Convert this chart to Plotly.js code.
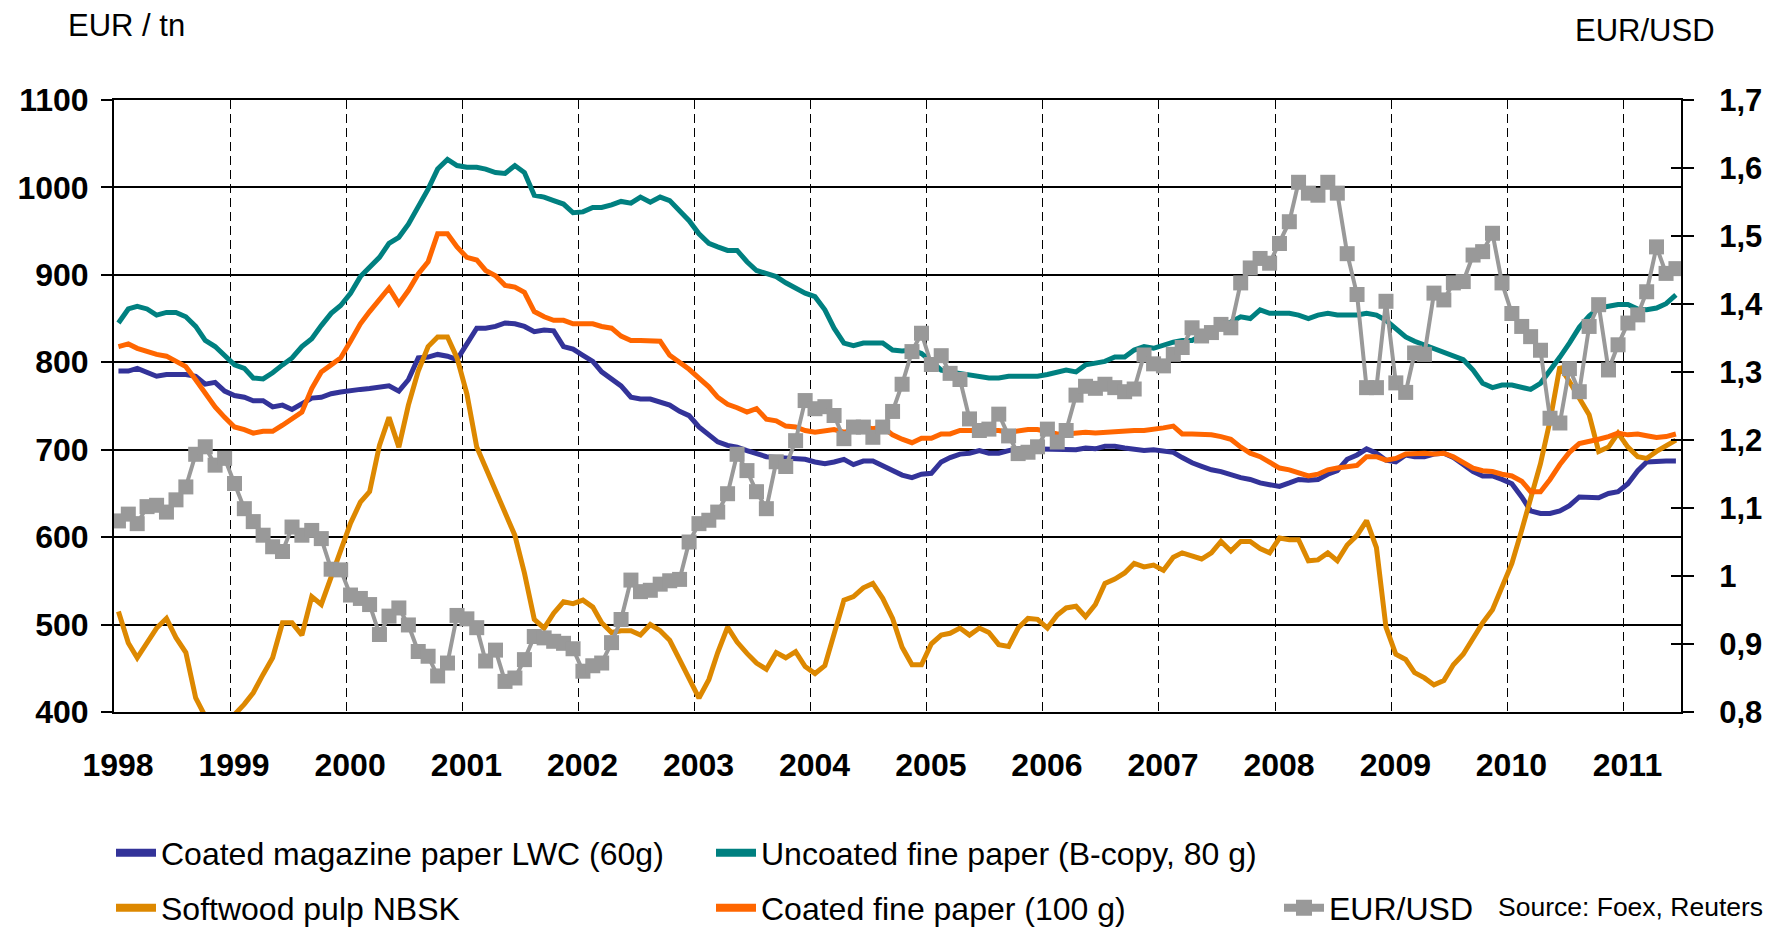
<!DOCTYPE html>
<html>
<head>
<meta charset="utf-8">
<script src="https://cdn.plot.ly/plotly-3.0.1.min.js"></script>
<style>
html,body{margin:0;padding:0;background:#ffffff;}
#chart{width:1767px;height:928px;}
</style>
</head>
<body>
<div id="chart"></div>
<script>
// ---- categories: monthly observations Jan 1998 .. Jun 2011 ----
const firstYear = 1998;
const monthCount = 162;
const yearTickValues = [1998,1999,2000,2001,2002,2003,2004,2005,2006,2007,2008,2009,2010,2011];
const leftTickValues = [400,500,600,700,800,900,1000,1100];
const rightTickValues = [0.8,0.9,1.0,1.1,1.2,1.3,1.4,1.5,1.6,1.7];
const rightTickLabels = ["0,8","0,9","1","1,1","1,2","1,3","1,4","1,5","1,6","1,7"];

// ---- series (EUR / tn) ----
const coatedMagazineLWC = [
 790,790,793,788,784,786,786,786,784,775,777,767,
 762,760,756,756,749,751,746,753,759,760,764,766,
 768,769,770,771,773,767,780,805,806,809,807,803,
 820,839,839,841,845,844,841,835,837,836,818,815,
 808,801,789,781,773,760,758,758,754,751,744,739,
 726,717,709,705,703,699,695,692,691,690,690,689,
 686,684,686,689,683,687,687,682,676,671,668,672,
 673,686,691,695,696,699,696,696,699,701,701,701,
 701,700,700,700,702,701,704,704,702,700,699,700,
 699,697,691,685,681,677,675,671,668,666,662,660,
 658,662,666,665,666,672,676,689,694,701,696,688,
 686,694,692,692,695,696,691,683,675,670,670,666,
 661,646,630,627,627,630,636,646,646,645,650,652,
 661,676,686,687,687,687];

const uncoatedFine = [
 845,861,864,861,854,857,857,852,841,825,818,808,
 797,793,782,781,788,797,805,818,827,842,856,865,
 879,898,909,920,936,943,958,977,998,1021,1032,1025,
 1023,1023,1021,1017,1016,1025,1017,991,989,985,981,971,
 972,977,977,980,984,982,989,983,989,985,974,962,
 947,936,932,928,928,915,905,901,898,891,885,879,
 875,860,839,822,819,822,822,822,814,813,814,810,
 801,791,789,787,786,784,782,782,784,784,784,784,
 786,789,791,789,797,799,801,806,806,814,818,816,
 820,823,825,825,831,837,842,846,852,850,860,856,
 856,856,854,850,854,856,854,854,854,856,854,848,
 839,829,824,820,816,812,808,803,791,776,771,774,
 774,772,769,776,790,806,822,840,853,862,864,866,
 866,861,860,862,867,877];

const softwoodNBSK = [
 515,479,462,479,496,507,485,468,416,395,397,396,
 397,409,422,443,462,502,502,488,532,523,555,587,
 616,640,652,705,737,703,751,790,818,829,829,805,
 764,703,680,652,627,602,559,506,496,513,526,524,
 528,520,502,491,493,493,488,500,493,482,460,438,
 416,437,468,497,480,467,456,449,468,462,469,452,
 444,453,490,528,532,542,547,530,507,474,454,454,
 478,488,490,496,488,496,491,477,475,496,507,506,
 496,511,519,521,509,523,547,552,559,570,566,568,
 562,577,582,579,575,582,595,584,595,595,587,582,
 599,597,597,573,574,582,573,591,602,619,588,497,
 466,460,445,439,431,436,454,466,485,502,517,544,
 570,608,646,684,733,795,778,760,740,698,703,719,
 703,692,690,698,705,711];

const coatedFine = [
 818,821,816,812,809,807,801,795,780,764,749,737,
 726,723,719,721,721,728,735,743,770,789,797,805,
 824,844,858,871,885,867,882,901,915,947,947,932,
 920,917,905,899,888,886,880,858,852,848,848,844,
 844,844,841,839,830,825,825,825,824,808,800,792,
 782,772,760,752,748,743,747,735,733,727,726,722,
 720,722,723,720,722,726,724,726,717,712,708,713,
 713,718,718,722,722,723,723,722,720,722,723,723,
 720,718,718,719,720,719,720,720,721,722,722,723,
 725,727,718,718,718,717,715,712,703,696,692,686,
 679,677,673,670,672,677,679,680,682,692,692,688,
 690,695,696,696,695,696,692,686,679,676,675,672,
 670,664,652,652,666,683,697,707,709,712,715,719,
 717,718,716,714,715,718];

// ---- series (EUR/USD, right axis) ----
const eurUsd = [
 1.081,1.091,1.077,1.102,1.104,1.094,1.112,1.131,1.179,1.190,1.163,1.173,
 1.136,1.099,1.080,1.060,1.043,1.036,1.072,1.060,1.067,1.055,1.010,1.009,
 0.972,0.967,0.958,0.914,0.941,0.953,0.928,0.889,0.882,0.853,0.872,0.942,
 0.937,0.924,0.875,0.891,0.845,0.850,0.877,0.911,0.909,0.904,0.901,0.893,
 0.860,0.868,0.872,0.902,0.936,0.994,0.977,0.979,0.988,0.993,0.995,1.050,
 1.077,1.082,1.094,1.121,1.179,1.155,1.124,1.099,1.168,1.161,1.199,1.258,
 1.246,1.249,1.236,1.202,1.219,1.219,1.204,1.219,1.242,1.282,1.330,1.357,
 1.311,1.324,1.298,1.289,1.231,1.214,1.216,1.238,1.206,1.180,1.182,1.190,
 1.216,1.197,1.214,1.266,1.279,1.276,1.282,1.277,1.271,1.275,1.325,1.312,
 1.309,1.326,1.336,1.365,1.353,1.358,1.370,1.365,1.431,1.453,1.467,1.460,
 1.489,1.521,1.579,1.563,1.560,1.579,1.563,1.474,1.414,1.277,1.277,1.404,
 1.284,1.270,1.328,1.326,1.416,1.406,1.431,1.433,1.472,1.477,1.504,1.431,
 1.386,1.367,1.352,1.332,1.232,1.225,1.305,1.271,1.367,1.399,1.303,1.340,
 1.372,1.384,1.418,1.484,1.445,1.452];

const seriesNames = ["Coated magazine paper LWC (60g)","Uncoated fine paper (B-copy, 80 g)","Softwood pulp NBSK","Coated fine paper (100 g)","EUR/USD"];
const seriesColors = ["#333399","#008080","#DD8800","#FF6600","#999999"];

// month positions (mid-month)
const months = [];
for (let i = 0; i < monthCount; i++) {
  const yy = firstYear + Math.floor(i / 12);
  const mm = (i % 12) + 1;
  months.push(yy + "-" + String(mm).padStart(2, "0") + "-15");
}
const yearTickDates = yearTickValues.map(y => y + "-01-01");
const yearTickText = yearTickValues.map(String);

const FONT = "Liberation Sans, Arial, Helvetica, sans-serif";
const W = 1767, H = 928, ML = 114, MR = 86, MT = 100, MB = 216;
const PW = W - ML - MR, PH = H - MT - MB;
const px = x => (x - ML) / PW;
const py = y => (H - MB - y) / PH;

const lineSeries = [coatedMagazineLWC, uncoatedFine, softwoodNBSK, coatedFine];
const traces = [];
lineSeries.forEach((vals, i) => {
  traces.push({
    x: months, y: vals, type: "scatter", mode: "lines",
    line: {color: seriesColors[i], width: 5},
    showlegend: false, hoverinfo: "skip", xaxis: "x", yaxis: "y"
  });
});
traces.push({
  x: months, y: eurUsd, type: "scatter", mode: "lines+markers",
  line: {color: seriesColors[4], width: 4},
  marker: {symbol: "square", size: 15, color: seriesColors[4]},
  showlegend: false, hoverinfo: "skip", xaxis: "x", yaxis: "y2"
});
// legend keys (no data)
const legendFor = ["legend", "legend", "legend2", "legend2"];
lineSeries.forEach((vals, i) => {
  traces.push({
    x: [null], y: [null], type: "scatter", mode: "lines",
    name: seriesNames[i], line: {color: seriesColors[i], width: 8},
    showlegend: true, legend: legendFor[i], hoverinfo: "skip"
  });
});
traces.push({
  x: [null], y: [null], type: "scatter", mode: "lines+markers",
  name: seriesNames[4], line: {color: seriesColors[4], width: 8},
  marker: {symbol: "square", size: 16, color: seriesColors[4]},
  showlegend: true, legend: "legend3", hoverinfo: "skip", yaxis: "y2"
});
// carrier for the inner right ticks
traces.push({x: [null], y: [null], type: "scatter", mode: "lines", showlegend: false, hoverinfo: "skip", yaxis: "y3"});

const legendCommon = {
  orientation: "h", xref: "container", yref: "container",
  xanchor: "left", yanchor: "middle",
  font: {family: FONT, size: 32, color: "#000"},
  entrywidth: 545, entrywidthmode: "pixels",
  itemwidth: 40, bgcolor: "rgba(0,0,0,0)", traceorder: "normal",
  itemclick: false, itemdoubleclick: false
};

const layout = {
  width: W, height: H,
  margin: {l: ML, r: MR, t: MT, b: MB, pad: 0},
  paper_bgcolor: "#ffffff", plot_bgcolor: "#ffffff",
  font: {family: FONT, color: "#000"},
  hovermode: false,
  xaxis: {
    type: "date", range: ["1998-01-01", "2011-07-01"],
    tickmode: "array", tickvals: yearTickDates, ticktext: yearTickText,
    showgrid: true, gridcolor: "#000", gridwidth: 1, griddash: "9px,5px",
    showline: true, linecolor: "#000", linewidth: 2, mirror: true,
    ticks: "", ticklabelstandoff: 24, ticklabelshift: 4,
    tickfont: {family: FONT, size: 32, weight: "bold", color: "#000"},
    zeroline: false, fixedrange: true
  },
  yaxis: {
    range: [400, 1100], tickmode: "array", tickvals: leftTickValues,
    showgrid: true, gridcolor: "#000", gridwidth: 2,
    showline: true, linecolor: "#000", linewidth: 2,
    ticks: "outside", ticklen: 11, tickwidth: 2, tickcolor: "#000",
    ticklabelstandoff: 6,
    tickfont: {family: FONT, size: 32, weight: "bold", color: "#000"},
    zeroline: false, fixedrange: true
  },
  yaxis2: {
    overlaying: "y", side: "right", anchor: "x",
    range: [0.8, 1.7], tickmode: "array", tickvals: rightTickValues, ticktext: rightTickLabels,
    showgrid: false, showline: true, linecolor: "#000", linewidth: 2,
    ticks: "outside", ticklen: 11, tickwidth: 2, tickcolor: "#000",
    ticklabelstandoff: 19,
    tickfont: {family: FONT, size: 31, weight: "bold", color: "#000"},
    zeroline: false, fixedrange: true
  },
  yaxis3: {
    overlaying: "y", side: "right", anchor: "x",
    range: [0.8, 1.7], tickmode: "array", tickvals: rightTickValues,
    showticklabels: false, showgrid: false, showline: false,
    ticks: "inside", ticklen: 10, tickwidth: 2, tickcolor: "#000",
    zeroline: false, fixedrange: true
  },
  legend: Object.assign({}, legendCommon, {x: 111 / W, y: 1 - 853 / H}),
  legend2: Object.assign({}, legendCommon, {x: 111 / W, y: 1 - 908 / H}),
  legend3: Object.assign({}, legendCommon, {x: 1279 / W, y: 1 - 908 / H, entrywidth: 0}),
  annotations: [
    {text: "EUR / tn", xref: "paper", yref: "paper", x: px(66), y: py(26), xanchor: "left", yanchor: "middle",
     showarrow: false, font: {family: FONT, size: 31, color: "#000"}},
    {text: "EUR/USD", xref: "paper", yref: "paper", x: px(1573), y: py(31), xanchor: "left", yanchor: "middle",
     showarrow: false, font: {family: FONT, size: 31, color: "#000"}},
    {text: "Source: Foex, Reuters", xref: "paper", yref: "paper", x: px(1765), y: py(907), xanchor: "right", yanchor: "middle",
     showarrow: false, font: {family: FONT, size: 26.5, color: "#000"}}
  ]
};

Plotly.newPlot("chart", traces, layout, {displayModeBar: false, staticPlot: true, responsive: false});
</script>
</body>
</html>
